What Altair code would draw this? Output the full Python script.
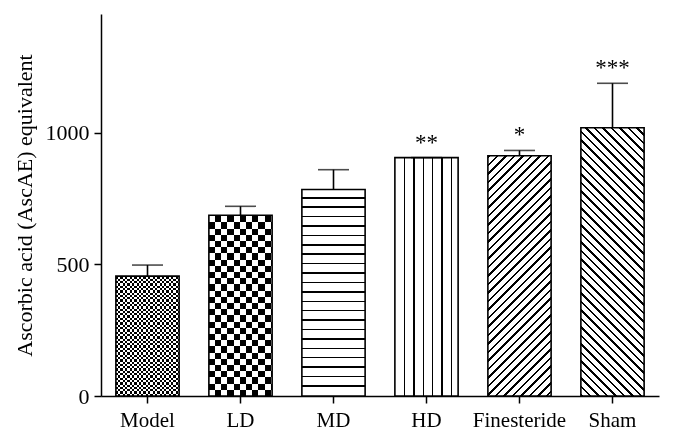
import altair as alt
import pandas as pd

# ---- data ----
groups = ["Model", "LD", "MD", "HD", "Finesteride", "Sham"]
means = [455, 686, 784, 905, 912, 1018]
errors = [42, 34, 75, 0, 20, 169]
stars = ["", "", "", "**", "*", "***"]

# ---- layout / style ----
PLOT_W, PLOT_H = 558, 382
YMAX = 1450
FONT = "Liberation Serif"
BAND = PLOT_W / len(groups)
BAR_W = BAND * 0.68

df = pd.DataFrame({"group": groups, "mean": means, "err": errors, "stars": stars})


def stops_for(total, period, line, start=0.0, on="black", off="white"):
    stops = [{"offset": 0, "color": off}]
    pos = start
    while pos < total:
        a = pos / total
        b = min(pos + line, total) / total
        stops += [{"offset": a, "color": off}, {"offset": a, "color": on},
                  {"offset": b, "color": on}, {"offset": b, "color": off}]
        pos += period
    stops.append({"offset": 1, "color": off})
    return stops


def grad(x1, y1, x2, y2, stops):
    return {"gradient": "linear", "x1": x1, "y1": y1, "x2": x2, "y2": y2, "stops": stops}


x_enc = alt.X(
    "group:N", sort=groups, title=None,
    scale=alt.Scale(paddingInner=0.32, paddingOuter=0.16),
    axis=alt.Axis(labelAngle=0, labelFont=FONT, labelFontSize=21, labelColor="black",
                  labelPadding=6, tickSize=7, tickColor="black", tickWidth=1.5,
                  domainColor="black", domainWidth=1.5, grid=False),
)
y_enc = alt.Y(
    "mean:Q", title="Ascorbic acid (AscAE) equivalent",
    scale=alt.Scale(domain=[0, YMAX], nice=False),
    axis=alt.Axis(values=[0, 500, 1000], format="d", labelFont=FONT, labelFontSize=22,
                  labelColor="black", labelPadding=5, tickSize=7, tickColor="black",
                  tickWidth=1.5, domainColor="black", domainWidth=1.5, grid=False,
                  titleFont=FONT, titleFontSize=22, titleFontWeight="normal",
                  titleColor="black", titlePadding=9),
)

base = alt.Chart(df).encode(x=x_enc, y=y_enc)
layers = []


def bar_layer(g, fill, blend=None):
    kw = {"fill": fill, "strokeWidth": 0}
    if blend:
        kw["blend"] = blend
    return base.transform_filter(alt.datum.group == g).mark_bar(**kw)


for g, m in zip(groups, means):
    hpx = m / YMAX * PLOT_H
    if g in ("Model", "LD"):
        cell = 2.3 if g == "Model" else 6.2
        hs = grad(0, 1, 0, 0, stops_for(hpx, 2 * cell, cell))
        vs = grad(0, 0, 1, 0, stops_for(BAR_W, 2 * cell, cell, on="white", off="black"))
        layers.append(bar_layer(g, hs))
        layers.append(bar_layer(g, vs, blend="difference"))
    elif g == "MD":
        layers.append(bar_layer(g, grad(0, 1, 0, 0, stops_for(hpx, 9.4, 1.5, start=9.4))))
    elif g == "HD":
        layers.append(bar_layer(g, grad(0, 0, 1, 0, stops_for(BAR_W, 9.4, 1.4, start=9.0))))
    else:
        W, H = BAR_W, hpx
        t = (W + H) / (W * W + H * H)
        st = stops_for(W + H, 8.5, 2.6)
        if g == "Finesteride":
            layers.append(bar_layer(g, grad(0, 0, t * W, t * H, st)))
        else:
            layers.append(bar_layer(g, grad(0, 1, t * W, 1 - t * H, st)))

outline = base.mark_bar(fill="transparent", stroke="black", strokeWidth=1.6)

err_base = alt.Chart(df).transform_calculate(upper="datum.mean + datum.err")
stem = err_base.mark_rule(color="black", strokeWidth=1.6).encode(
    x=alt.X("group:N", sort=groups), y="mean:Q", y2="upper:Q")
cap = err_base.mark_tick(color="black", size=31, thickness=1.6).encode(
    x=alt.X("group:N", sort=groups), y="upper:Q")
txt = err_base.mark_text(font=FONT, fontSize=23, dy=-15, baseline="middle", color="black").encode(
    x=alt.X("group:N", sort=groups), y="upper:Q", text="stars:N")

chart = alt.layer(*layers, outline, stem, cap, txt).properties(
    width=PLOT_W, height=PLOT_H,
    autosize=alt.AutoSizeParams(type="none"),
    padding={"left": 93, "top": 6, "right": 7, "bottom": 38},
    background="white",
).configure_view(stroke=None)

chart.save("out.html", embed_options={"renderer": "svg", "actions": False})
